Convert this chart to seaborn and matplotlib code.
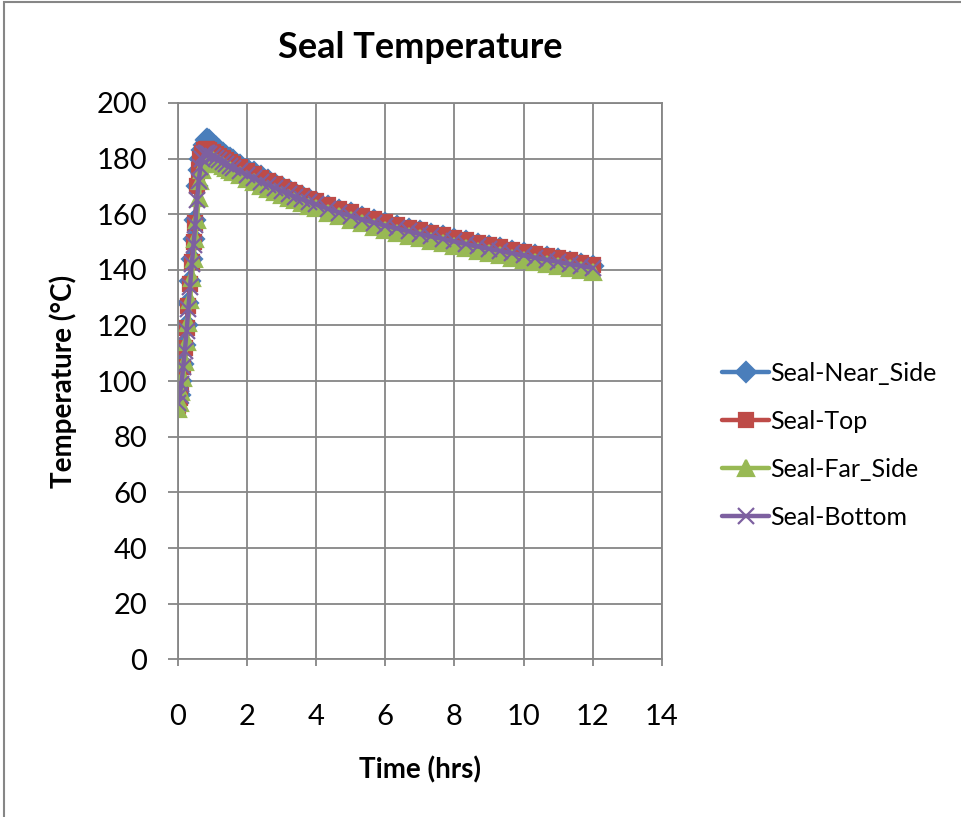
import matplotlib
matplotlib.use("Agg")
import matplotlib.pyplot as plt
import pandas as pd
import seaborn as sns
from matplotlib.patches import Rectangle

# time steps (hrs), shared by all four seal sensors
time_hrs = [0.0, 0.05, 0.1, 0.15, 0.2, 0.25, 0.3, 0.35, 0.4, 0.45, 0.5, 0.55, 0.6, 0.65, 0.7, 0.75, 0.8, 0.85, 0.9,
            1.0, 1.1, 1.2, 1.3, 1.4, 1.5, 1.6, 1.8, 2.0, 2.2, 2.4, 2.6, 2.8, 3.0, 3.2, 3.4, 3.6, 3.8, 4.0,
            4.33, 4.67, 5.0, 5.33, 5.67, 6.0, 6.33, 6.67, 7.0, 7.33, 7.67, 8.0, 8.33, 8.67, 9.0, 9.33, 9.67,
            10.0, 10.33, 10.67, 11.0, 11.33, 11.67, 12.0]

near_side = [92, 95, 100, 106, 113, 120, 128, 136, 144, 151, 158, 170, 176, 180, 183, 185, 186.5, 187, 186.5,
             185, 184, 183, 182, 181, 180.2, 179.4, 177.8, 176.4, 175, 173.6, 172.3, 171, 169.8, 168.6, 167.5, 166.4, 165.4, 164.4,
             163, 161.6, 160.3, 159.1, 157.9, 156.8, 155.8, 154.8, 153.8, 152.9, 152, 151.1, 150.2, 149.3, 148.5, 147.7, 146.9,
             146.1, 145.3, 144.5, 143.8, 143.0, 142.2, 141.5]

top = [91, 94, 99, 105, 112, 119, 127, 135, 143, 150, 157, 170, 176, 180, 182, 183, 183.5, 183.5, 183,
       182.3, 181.6, 180.9, 180.2, 179.5, 178.8, 178.1, 176.8, 175.5, 174.3, 173.1, 171.9, 170.8, 169.7, 168.6, 167.6, 166.6, 165.6, 164.7,
       163.3, 162, 160.7, 159.5, 158.3, 157.2, 156.2, 155.2, 154.2, 153.3, 152.4, 151.5, 150.6, 149.7, 148.9, 148.1, 147.3,
       146.5, 145.7, 144.9, 144.2, 143.4, 142.6, 141.9]

far_side = [90, 92, 96, 101, 107, 114, 121, 129, 137, 144, 151, 158, 166, 172, 176, 178, 179.5, 180, 180,
            179.5, 178.8, 178.1, 177.4, 176.7, 176, 175.3, 174, 172.7, 171.5, 170.3, 169.2, 168.1, 167, 166, 165, 164, 163.1, 162.2,
            160.6, 159.2, 157.9, 156.7, 155.5, 154.4, 153.3, 152.3, 151.3, 150.4, 149.5, 148.6, 147.7, 146.8, 146.0, 145.2, 144.4,
            143.6, 142.8, 142.0, 141.3, 140.6, 139.9, 139.2]

bottom = [92, 95, 99, 105, 111, 118, 126, 134, 142, 149, 156, 165, 172, 177, 180, 181.5, 182, 182, 181.5,
          181, 180.2, 179.5, 178.8, 178.1, 177.4, 176.7, 175.4, 174.1, 172.9, 171.7, 170.6, 169.5, 168.4, 167.3, 166.3, 165.3, 164.4, 163.5,
          162.0, 160.6, 159.3, 158.1, 157.0, 155.9, 154.9, 153.9, 152.9, 152.0, 151.1, 150.2, 149.3, 148.4, 147.6, 146.8, 146.0,
          145.2, 144.4, 143.6, 142.9, 142.1, 141.4, 140.7]

series_names = ["Seal-Near_Side", "Seal-Top", "Seal-Far_Side", "Seal-Bottom"]
series_vals = [near_side, top, far_side, bottom]
colors = ["#4A7EBB", "#BE4B48", "#98B954", "#7D60A0"]
markers = ["D", "s", "^", "x"]
msizes = [10, 10, 11, 11]

sns.set_style("white")
plt.rcParams["font.family"] = ["Lato", "DejaVu Sans"]
plt.rcParams["text.color"] = "black"
plt.rcParams["axes.labelcolor"] = "black"
plt.rcParams["xtick.labelcolor"] = "black"
plt.rcParams["ytick.labelcolor"] = "black"

fig = plt.figure(figsize=(9.62, 8.17), dpi=100)
ax = fig.add_axes([0.185, 0.193, 0.503, 0.681])

for name, vals, c, m, ms in zip(series_names, series_vals, colors, markers, msizes):
    sns.lineplot(x=time_hrs, y=vals, ax=ax, color=c, marker=m, markersize=ms, markeredgecolor=c,
                 markeredgewidth=1.6, linewidth=3.2, label=name)

ax.set_xlim(0, 14)
ax.set_ylim(0, 200)
ax.set_xticks(range(0, 15, 2))
ax.set_yticks(range(0, 201, 20))
ax.grid(True, color="#868686", linewidth=1.3)
for s in ax.spines.values():
    s.set_color("#868686")
    s.set_linewidth(1.3)
ax.tick_params(axis="both", labelsize=21, color="#868686", width=1.3, direction="out")
ax.tick_params(axis="y", left=True, length=7, pad=15)
ax.tick_params(axis="x", bottom=True, length=5, pad=27)

ax.set_title("Seal Temperature", fontsize=26, fontweight="bold", pad=32)
ax.set_xlabel("Time (hrs)", fontsize=20, fontweight="bold", labelpad=19)
ax.set_ylabel("Temperature (°C)", fontsize=20, fontweight="bold", labelpad=14)

ax.legend(loc="center left", bbox_to_anchor=(0.727, 0.455), bbox_transform=fig.transFigure,
          frameon=False, fontsize=18, handlelength=1.9, handletextpad=0.05, labelspacing=1.0)

fig.patches.append(Rectangle((0.004, -0.01), 1.1, 1.007, transform=fig.transFigure,
                             fill=False, edgecolor="#868686", linewidth=1.5))

fig.savefig("out.png", dpi=100)
